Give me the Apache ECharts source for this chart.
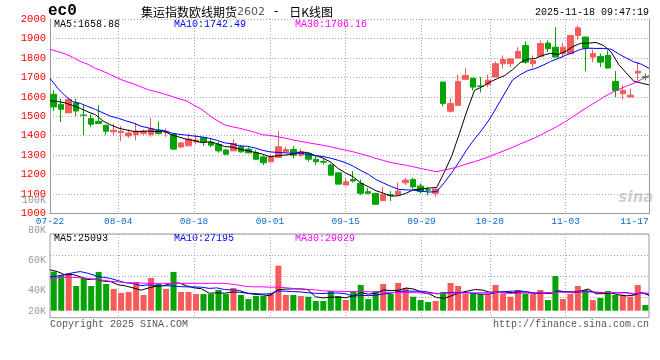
<!DOCTYPE html>
<html><head><meta charset="utf-8">
<script src="https://cdn.jsdelivr.net/npm/echarts@6/dist/echarts.min.js"></script>
<style>html,body{margin:0;padding:0;background:#fff}#c{width:660px;height:360px}</style>
</head><body><div id="c"></div>
<script>
// ---- data ----
const dates = ['07-22','07-23','07-24','07-25','07-28','07-29','07-30','07-31',
'08-01','08-04','08-05','08-06','08-07','08-08','08-11','08-12','08-13','08-14','08-15','08-18','08-19','08-20','08-21','08-22','08-25','08-26','08-27','08-28','08-29',
'09-01','09-02','09-03','09-04','09-05','09-08','09-09','09-10','09-11','09-12','09-15','09-16','09-17','09-18','09-19','09-22','09-23','09-24','09-25','09-26','09-29','09-30',
'10-09','10-10','10-13','10-14','10-15','10-16','10-17','10-20','10-21','10-22','10-23','10-24','10-27','10-28','10-29','10-30','10-31',
'11-03','11-04','11-05','11-06','11-07','11-10','11-11','11-12','11-13','11-14','11-17','11-18'];
const opens  = [1613,1561,1517,1568,1506,1488,1474,1454,1420,1416,1399,1406,1411,1406,1428,1418,1406,1342,1348,1368,1391,1368,1355,1326,1322,1343,1331,1314,1291,1266,1288,1317,1329,1300,1309,1279,1268,1249,1209,1146,1175,1155,1112,1103,1066,1096,1098,1158,1175,1141,1122,1104,1676,1526,1556,1690,1696,1656,1663,1702,1770,1770,1799,1864,1770,1808,1876,1855,1822,1822,1915,1907,1804,1808,1813,1679,1616,1599,1722,1703];
const closes = [1548,1536,1586,1527,1505,1459,1463,1423,1428,1423,1414,1423,1423,1437,1411,1423,1331,1363,1382,1377,1368,1351,1322,1305,1360,1317,1312,1279,1261,1291,1343,1329,1300,1317,1279,1266,1264,1197,1151,1163,1167,1104,1104,1047,1098,1093,1115,1172,1137,1112,1120,1126,1565,1565,1679,1710,1650,1654,1685,1770,1792,1795,1833,1778,1787,1874,1847,1804,1855,1915,1955,1850,1822,1778,1748,1633,1633,1608,1731,1701];
const lows   = [1527,1471,1517,1500,1403,1445,1462,1403,1403,1372,1389,1377,1403,1394,1406,1394,1326,1337,1348,1355,1348,1340,1313,1300,1322,1312,1309,1274,1249,1263,1288,1317,1283,1291,1266,1249,1252,1197,1151,1146,1160,1095,1098,1044,1066,1064,1098,1146,1126,1104,1095,1086,1551,1519,1556,1690,1633,1622,1650,1702,1745,1753,1799,1770,1750,1808,1830,1804,1801,1822,1893,1732,1778,1753,1745,1599,1587,1599,1684,1684];
const highs  = [1633,1591,1586,1591,1556,1509,1556,1454,1462,1449,1432,1466,1432,1491,1474,1437,1411,1368,1411,1406,1394,1382,1368,1334,1382,1351,1340,1326,1300,1304,1423,1343,1346,1334,1309,1300,1283,1257,1209,1184,1218,1175,1132,1107,1137,1115,1160,1184,1184,1155,1137,1126,1676,1591,1714,1750,1696,1702,1714,1782,1813,1795,1855,1885,1813,1890,1890,1958,1876,1915,1967,1907,1842,1822,1838,1732,1659,1642,1778,1719];
const volumes = [63900,58600,61300,40500,54100,40500,63500,43800,35600,29000,30600,47100,25700,53700,43800,35600,63500,30600,30600,27300,27300,27300,33900,27300,37200,25700,19100,24100,24100,29000,73800,25700,25700,24100,22900,15900,15900,32300,24100,17500,32300,42200,19100,32300,43800,27300,45500,37200,22900,17500,14200,15900,30600,45500,40500,27300,29000,27300,27300,42200,27300,22900,33900,27300,27300,33900,17500,56900,19100,27300,40500,33900,17500,20800,32300,25700,25700,22900,42200,9300];
// moving-average values before enough history is visible
const ma5Head  = [1580,1576,1569,1555];
const ma10Head = [1695,1645,1605,1575,1566,1550,1535,1517,1500];
const ma30Head = [1844,1833,1821,1803,1782,1767,1746,1731,1713,1695,1679,1667,1651,1636,1626,1615,1603,1590,1579,1556,1536,1505,1479,1456,1446,1438,1428,1418,1405];
const volMa5Head  = [67000,64000,58500,59400];
const volMa10Head = [55600,56600,59400,62200,64100,61300,57500,54700,52800];
const volMa30Head = [52800,53800,54700,54700,53800,52800,50900,50000,48100,47200,46200,45300,45300,44800,44800,44800,44800,44800,44800,44800,44800,44800,44800,44800,43400,41500,39600,39100,39100];
const dateTickLabels = ['07-22','08-04','08-18','09-01','09-15','09-29','10-20','11-03','11-17'];
const priceTicks = {min:1000, max:2000, step:100};
const volTickLabels = ['20K','40K','60K','80K','100K'];
const maLegend = ['MA5:1658.88','MA10:1742.49','MA30:1706.16'];
const volLegend = ['MA5:25093','MA10:27195','MA30:29029'];

// ---- build ----
const MONO = '"Liberation Mono","DejaVu Sans Mono",monospace';
const RED = '#f65b5b', GREEN = '#06a306', GRAY = '#9a9a9a';
function movingAvg(vals, n, head){
  return vals.map((v,i)=> i < n-1 ? head[i] : vals.slice(i-n+1,i+1).reduce((a,b)=>a+b,0)/n);
}
const kData = dates.map((d,i)=>[opens[i],closes[i],lows[i],highs[i]]);
const volData = volumes.map((v,i)=>({value:v, itemStyle:{color: closes[i] >= opens[i] ? RED : GREEN}}));
const labelSet = new Set(dateTickLabels);
const gridSet = new Set(dateTickLabels.slice(1, -1));
const lastLabel = dateTickLabels[dateTickLabels.length-1];
const dotted = {show:true, interval:(i,v)=>gridSet.has(v), lineStyle:{color:'#aaa', type:[1,2], width:1}};

const chart = echarts.init(document.getElementById('c'), null, {renderer:'canvas'});
const option = {
  animation:false,
  backgroundColor:'#fff',
  grid:[
    {left:50, top:19, width:599, height:194.5},
    {left:50, top:234, width:599, height:83.7, show:true, borderColor:GRAY, borderWidth:1},
    {left:50, top:200, width:599, height:120}
  ],
  xAxis:[
    {gridIndex:0, type:'category', data:dates, boundaryGap:true, show:false, position:'top'},
    {gridIndex:0, type:'category', data:dates, boundaryGap:false, position:'bottom',
      axisLine:{show:true, onZero:false, lineStyle:{color:GRAY, width:1}}, axisTick:{show:false},
      axisLabel:{show:true, interval:(i,v)=>labelSet.has(v), color:'#0a6ccc', fontFamily:MONO, fontSize:9.5, margin:3,
        formatter:(v)=> v===lastLabel ? '{r|'+v+'}' : v,
        rich:{r:{color:'#0a6ccc', fontFamily:MONO, fontSize:9.5, padding:[0,14,0,0]}}},
      splitLine:dotted},
    {gridIndex:1, type:'category', data:dates, boundaryGap:true, show:false, position:'top'},
    {gridIndex:1, type:'category', data:dates, boundaryGap:false, position:'bottom',
      axisLine:{show:false}, axisTick:{show:false}, axisLabel:{show:false}, splitLine:dotted},
    {gridIndex:2, type:'value', show:false}
  ],
  yAxis:[
    {gridIndex:0, type:'value', min:priceTicks.min, max:priceTicks.max, interval:priceTicks.step, position:'left',
      axisLine:{show:true, onZero:false, lineStyle:{color:GRAY}}, axisTick:{show:false},
      axisLabel:{color:'#ff0000', fontFamily:MONO, fontSize:10.5, margin:4, formatter:(v)=>String(v)},
      splitLine:{show:true, lineStyle:{color:'#aaa', type:[1,2], width:1}}},
    {gridIndex:0, type:'value', position:'right', min:0, max:1,
      axisLine:{show:true, onZero:false, lineStyle:{color:GRAY}}, axisTick:{show:false}, axisLabel:{show:false}, splitLine:{show:false}},
    {gridIndex:1, type:'value', min:-11500, max:125700, show:false},
    {gridIndex:1, type:'value', min:0, max:4, interval:1,
      axisLine:{show:false}, axisTick:{show:false}, axisLabel:{show:false},
      splitLine:{show:true, lineStyle:{color:'#aaa', type:[1,2], width:1}}},
    {gridIndex:2, type:'value', min:20000, max:100000, interval:20000,
      axisLine:{show:false}, axisTick:{show:false}, splitLine:{show:false},
      axisLabel:{color:'#999', fontFamily:MONO, fontSize:10, margin:4,
        formatter:(v)=>{const t = volTickLabels[Math.round(v/20000)-1]; return v===20000 ? '{s|'+t+'}' : t;},
        rich:{s:{color:'#999', fontFamily:MONO, fontSize:10, padding:[0,0,18,0]}}}}
  ],
  series:[
    {type:'candlestick', xAxisIndex:0, yAxisIndex:0, data:kData, barWidth:6,
      itemStyle:{color:RED, color0:GREEN, borderColor:RED, borderColor0:GREEN, borderWidth:1}},
    {type:'line', xAxisIndex:1, yAxisIndex:0, data:movingAvg(closes,5,ma5Head), symbol:'none', lineStyle:{color:'#000', width:1}, silent:true},
    {type:'line', xAxisIndex:1, yAxisIndex:0, data:movingAvg(closes,10,ma10Head), symbol:'none', lineStyle:{color:'#0000ff', width:1}, silent:true},
    {type:'line', xAxisIndex:1, yAxisIndex:0, data:movingAvg(closes,30,ma30Head), symbol:'none', lineStyle:{color:'#ff00ff', width:1}, silent:true},
    {type:'bar', xAxisIndex:2, yAxisIndex:2, data:volData, barWidth:6},
    {type:'line', xAxisIndex:3, yAxisIndex:2, data:movingAvg(volumes,5,volMa5Head), symbol:'none', lineStyle:{color:'#000', width:1}},
    {type:'line', xAxisIndex:3, yAxisIndex:2, data:movingAvg(volumes,10,volMa10Head), symbol:'none', lineStyle:{color:'#0000ff', width:1}},
    {type:'line', xAxisIndex:3, yAxisIndex:2, data:movingAvg(volumes,30,volMa30Head), symbol:'none', lineStyle:{color:'#ff00ff', width:1}},
    {type:'line', xAxisIndex:4, yAxisIndex:4, data:[]}
  ],
  graphic:[
    {type:'text', x:48, y:11, style:{text:'ec0', font:'bold 16px '+MONO, fill:'#000', textVerticalAlign:'middle'}},
    {type:'text', x:141, y:12, style:{text:'{a|集运指数欧线期货}{b|2602}{c|-}{a|日K线图}', textVerticalAlign:'middle',
      rich:{a:{fontFamily:'"Noto Sans CJK SC"', fontSize:12, fill:'#000'},
            b:{fontFamily:'"DejaVu Sans"', fontSize:11, fill:'#555'},
            c:{fontFamily:'"DejaVu Sans"', fontSize:12, fill:'#000', padding:[0,11,0,9]}}}},
    {type:'text', x:649, y:12, style:{text:'2025-11-18 09:47:19', font:'10px '+MONO, fill:'#000', textAlign:'right', textVerticalAlign:'middle'}},
    {type:'text', x:54, y:24, style:{text:maLegend[0], font:'10px '+MONO, fill:'#000', textVerticalAlign:'middle'}},
    {type:'text', x:174, y:24, style:{text:maLegend[1], font:'10px '+MONO, fill:'#0000ff', textVerticalAlign:'middle'}},
    {type:'text', x:295, y:24, style:{text:maLegend[2], font:'10px '+MONO, fill:'#ff00ff', textVerticalAlign:'middle'}},
    {type:'text', x:54, y:238.5, style:{text:volLegend[0], font:'10px '+MONO, fill:'#000', textVerticalAlign:'middle'}},
    {type:'text', x:174, y:238.5, style:{text:volLegend[1], font:'10px '+MONO, fill:'#0000ff', textVerticalAlign:'middle'}},
    {type:'text', x:295, y:238.5, style:{text:volLegend[2], font:'10px '+MONO, fill:'#ff00ff', textVerticalAlign:'middle'}},
    {type:'text', x:50, y:324, style:{text:'Copyright 2025 SINA.COM', font:'10px '+MONO, fill:'#555', textVerticalAlign:'middle'}},
    {type:'text', x:649, y:324, style:{text:'http://finance.sina.com.cn', font:'10px '+MONO, fill:'#555', textAlign:'right', textVerticalAlign:'middle'}},
    {type:'text', x:636, y:198, style:{text:'sina', font:'italic bold 15px "DejaVu Sans"', fill:'#cfcfcf', textAlign:'center', textVerticalAlign:'middle'}}
  ]
};
chart.setOption(option);
</script>
</body></html>
